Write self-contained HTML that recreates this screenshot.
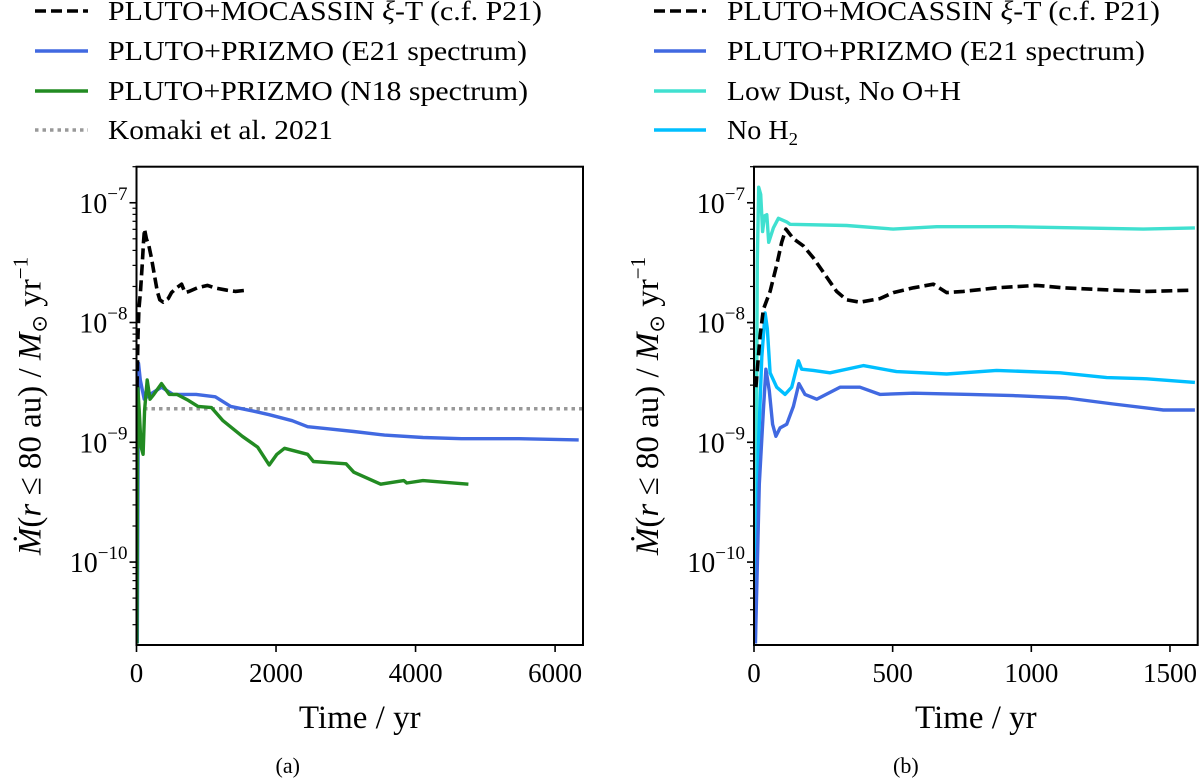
<!DOCTYPE html>
<html><head><meta charset="utf-8"><style>
body{margin:0;background:#fff}
svg{display:block;font-family:"Liberation Serif",serif}
</style></head><body>
<svg id="fig" width="1200" height="779" viewBox="0 0 1200 779" xmlns="http://www.w3.org/2000/svg"></svg>
<script>
// ---- data (log10 of mass-loss rate, Msun/yr) ----
const yTickExps = [-7, -8, -9, -10];
const xTicksA = [0, 2000, 4000, 6000];
const xTicksB = [0, 500, 1000, 1500];
const komakiRate = -8.72;

const mocT = [7,22,34,58,82,100,115,142,178,214,250,298,334,382,454,502,575,647,695,755,875,1019,1116,1296,1416,1584];
const mocV = [-8.54,-8.11,-7.89,-7.74,-7.52,-7.33,-7.22,-7.30,-7.36,-7.46,-7.58,-7.74,-7.81,-7.83,-7.80,-7.75,-7.71,-7.68,-7.75,-7.74,-7.71,-7.69,-7.71,-7.73,-7.74,-7.73];

const e21LongT = [11,28,55,110,193,358,524,854,1130,1350,1681,1902,2232,2453,2784,3114,3555,4106,4658,5484,6339];
const e21LongV = [-10.68,-8.34,-8.48,-8.64,-8.60,-8.54,-8.60,-8.60,-8.62,-8.70,-8.74,-8.77,-8.82,-8.87,-8.89,-8.91,-8.94,-8.96,-8.97,-8.97,-8.98];

const n18T = [6,17,39,66,94,116,154,193,248,358,469,579,744,882,1075,1240,1516,1736,1902,2012,2122,2453,2536,3004,3114,3500,3831,3875,4106,4757];
const n18V = [-10.68,-8.54,-8.73,-9.04,-9.10,-8.73,-8.48,-8.64,-8.60,-8.51,-8.60,-8.60,-8.65,-8.70,-8.71,-8.82,-8.95,-9.04,-9.19,-9.10,-9.05,-9.10,-9.16,-9.18,-9.25,-9.35,-9.32,-9.34,-9.32,-9.35];

const lowDustT = [5,12,17,24,31,38,46,53,70,88,118,130,334,502,659,923,1176,1404,1590];
const lowDustV = [-10.68,-7.49,-6.87,-6.93,-7.24,-7.11,-7.10,-7.33,-7.21,-7.13,-7.16,-7.18,-7.19,-7.22,-7.20,-7.20,-7.21,-7.22,-7.21];

const noH2T = [4,16,28,40,48,58,82,112,136,160,172,214,274,394,514,695,875,1104,1272,1416,1590];
const noH2V = [-10.68,-9.04,-8.29,-7.92,-8.05,-8.42,-8.54,-8.60,-8.54,-8.32,-8.39,-8.40,-8.42,-8.36,-8.41,-8.43,-8.40,-8.42,-8.46,-8.47,-8.50];

const e21ShortT = [5,19,34,43,55,67,79,94,118,142,162,184,226,310,382,454,575,779,935,1128,1296,1476,1590];
const e21ShortV = [-10.68,-9.35,-8.73,-8.39,-8.57,-8.85,-8.95,-8.88,-8.85,-8.70,-8.51,-8.60,-8.64,-8.54,-8.54,-8.60,-8.59,-8.60,-8.61,-8.63,-8.68,-8.73,-8.73];

// ---- layout ----
const NS = "http://www.w3.org/2000/svg";
const svg = document.getElementById('fig');
const Y0 = 166.7, Y1 = 645, LOGMAX = Math.log10(2e-7), LOGMIN = Math.log10(2.03e-11);
const yScale = l => Y0 + (LOGMAX - l) / (LOGMAX - LOGMIN) * (Y1 - Y0);

function el(tag, attrs, parent) {
  const e = document.createElementNS(NS, tag);
  for (const k in attrs) e.setAttribute(k, attrs[k]);
  (parent || svg).appendChild(e);
  return e;
}

function panel(id, x0, x1, xmax, xticks) {
  const g = el('g', {});
  
  
  const xs = t => x0 + t / xmax * (x1 - x0);
  const clipId = 'clip' + id;
  const cp = el('clipPath', { id: clipId }, g);
  el('rect', { x: x0, y: Y0, width: x1 - x0, height: Y1 - Y0 }, cp);
  const plot = el('g', { 'clip-path': 'url(#' + clipId + ')' }, g);
  
  
  for (let d = -11; d <= -7; d++) {
    for (let m = 1; m <= 9; m++) {
      const l = d + Math.log10(m);
      if (l < LOGMIN || l > LOGMAX) continue;
      const y = yScale(l);
      el('line', { x1: x0, x2: x0 - (m === 1 ? 7 : 4), y1: y, y2: y, stroke: '#000', 'stroke-width': m === 1 ? 1.6 : 1.2 }, g);
    }
  }
  yTickExps.forEach(e => {
    const t = el('text', { x: x0 - 9, y: yScale(e) + 10, 'text-anchor': 'end', 'font-size': 28 }, g);
    
    
    t.innerHTML = '10<tspan dy="-13" font-size="19">\u2212' + (-e) + '</tspan>';
  });
  xticks.forEach(v => {
    const x = xs(v);
    el('line', { x1: x, x2: x, y1: Y1, y2: Y1 + 7, stroke: '#000', 'stroke-width': 1.6 }, g);
    const t = el('text', { x: x, y: Y1 + 37, 'text-anchor': 'middle', 'font-size': 27 }, g);
    
    
    t.textContent = v;
  });
  const xl = el('text', { x: (x0 + x1) / 2, y: Y1 + 83, 'text-anchor': 'middle', 'font-size': 33 }, g);
  
  
  xl.textContent = 'Time / yr';
  const yl = el('text', { x: 0, y: 0, 'text-anchor': 'middle', 'font-size': 33, transform: 'translate(' + (x0 - 96) + ',406) rotate(-90)' }, g);
  
  
  yl.innerHTML = '<tspan font-style="italic">Ṁ</tspan>(<tspan font-style="italic">r</tspan> ≤ 80 au) / <tspan font-style="italic">M</tspan><tspan font-size="21" dy="6">⊙</tspan><tspan dy="-6"> yr</tspan><tspan font-size="21" dy="-13">−1</tspan>';
  const cap = el('text', { x: (x0 + x1) / 2 - 72 + (id === 'b' ? 2 : 0), y: 773, 'text-anchor': 'middle', 'font-size': 22 }, g);
  
  
  cap.textContent = '(' + id + ')';
  return { g, plot, xs };
}

function series(p, ts, vs, color, name, dash, w) {
  const pts = ts.map((t, i) => p.xs(t).toFixed(1) + ',' + yScale(vs[i]).toFixed(1)).join(' ');
  const pl = el('polyline', { points: pts, fill: 'none', stroke: color, 'stroke-width': w || 3.4, 'stroke-linejoin': 'round' }, p.plot);
  if (dash) pl.setAttribute('stroke-dasharray', dash);
  
  
}

const A = panel('a', 136.5, 583, 6400, xTicksA);
const B = panel('b', 754, 1197.7, 1600, xTicksB);

const kom = el('line', { x1: 136.5, x2: 583, y1: yScale(komakiRate), y2: yScale(komakiRate), stroke: '#999', 'stroke-width': 3.4, 'stroke-dasharray': '3.5 4' }, A.plot);


series(A, e21LongT, e21LongV, '#4169e1', 'e21-spectrum-line');
series(A, n18T, n18V, '#228b22', 'n18-spectrum-line');
series(A, mocT, mocV, '#000', 'mocassin-line', '11 5', 3.6);

series(B, lowDustT, lowDustV, '#40e0d0', 'low-dust-line');
series(B, noH2T, noH2V, '#00bfff', 'no-h2-line');
series(B, e21ShortT, e21ShortV, '#4169e1', 'e21-spectrum-line');
series(B, mocT, mocV, '#000', 'mocassin-line', '11 5', 3.6);

[[136.5, 583], [754, 1197.7]].forEach(([a, b]) => {
  const r = el('rect', { x: a, y: Y0, width: b - a, height: Y1 - Y0, fill: 'none', stroke: '#000', 'stroke-width': 2 });
  
  
});

function legend(lx0, lx1, tx, entries) {
  const g = el('g', {});
  
  
  entries.forEach((e, i) => {
    const y = [11, 51, 91, 130][i];
    const ln = el('line', { x1: lx0, x2: lx1, y1: y, y2: y, stroke: e.c, 'stroke-width': 3.4 }, g);
    if (e.d) ln.setAttribute('stroke-dasharray', e.d);
    
    
    const t = el('text', { x: tx, y: y + 9, 'font-size': 27, textLength: e.w, lengthAdjust: 'spacingAndGlyphs' }, g);
    
    
    t.innerHTML = e.t;
  });
}
legend(35, 88, 108, [
  { c: '#000', d: '11 5', t: 'PLUTO+MOCASSIN <tspan font-style="italic">ξ</tspan>-T (c.f. P21)', w: 434 },
  { c: '#4169e1', t: 'PLUTO+PRIZMO (E21 spectrum)', w: 419 },
  { c: '#228b22', t: 'PLUTO+PRIZMO (N18 spectrum)', w: 420 },
  { c: '#999', d: '3.5 4', t: 'Komaki et al. 2021', w: 225 }
]);
legend(654, 706, 727, [
  { c: '#000', d: '11 5', t: 'PLUTO+MOCASSIN <tspan font-style="italic">ξ</tspan>-T (c.f. P21)', w: 433 },
  { c: '#4169e1', t: 'PLUTO+PRIZMO (E21 spectrum)', w: 418 },
  { c: '#40e0d0', t: 'Low Dust, No O+H', w: 234 },
  { c: '#00bfff', t: 'No H<tspan font-size="18" dy="6">2</tspan>', w: 71 }
]);
</script>
</body></html>
